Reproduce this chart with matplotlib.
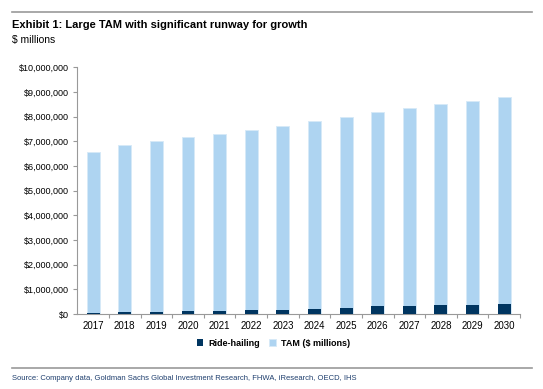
import matplotlib
matplotlib.use("Agg")
import matplotlib.pyplot as plt
from matplotlib.ticker import FuncFormatter
from matplotlib.lines import Line2D

years = ["2017", "2018", "2019", "2020", "2021", "2022", "2023",
         "2024", "2025", "2026", "2027", "2028", "2029", "2030"]
tam = [6580000, 6850000, 7010000, 7160000, 7310000, 7460000, 7620000,
       7810000, 7990000, 8180000, 8340000, 8510000, 8650000, 8800000]
ride_hailing = [40000, 80000, 80000, 120000, 130000, 160000, 170000,
                210000, 260000, 310000, 340000, 380000, 380000, 410000]

plt.rcParams["font.family"] = ["Liberation Sans", "DejaVu Sans"]

dark = "#003560"
light = "#AED4F1"

fig = plt.figure(figsize=(5.43, 3.89), dpi=100)
ax = fig.add_axes([0.1424, 0.1928, 0.8152, 0.6342])

x = range(len(years))
ax.bar(x, tam, width=0.41, color=light, edgecolor="#D6E9F8", linewidth=0.6, label="TAM ($ millions)", zorder=2)
ax.bar(x, ride_hailing, width=0.41, color=dark, label="Ride-hailing", zorder=3)

ax.set_xlim(-0.5, len(years) - 0.5)
ax.set_ylim(0, 10000000)
ax.set_yticks(range(0, 10000001, 1000000))
ax.yaxis.set_major_formatter(FuncFormatter(lambda v, p: f"${v:,.0f}"))
ax.set_xticks(list(x))
ax.set_xticklabels(years)
ax.set_xticks([i + 0.5 for i in range(len(years))], minor=True)
ax.tick_params(axis="x", which="major", length=0, labelsize=7, pad=5)
ax.tick_params(axis="x", which="minor", length=3, color="#999999", width=0.8)
ax.tick_params(axis="y", length=3, color="#999999", width=0.8, labelsize=6.5, pad=3)

for s in ["top", "right"]:
    ax.spines[s].set_visible(False)
for s in ["left", "bottom"]:
    ax.spines[s].set_color("#999999")
    ax.spines[s].set_linewidth(0.8)

handles, labels = ax.get_legend_handles_labels()
fig.legend(handles[::-1], labels[::-1], loc="center", bbox_to_anchor=(0.504, 1 - 343 / 389),
           ncol=2, frameon=False, handlelength=0.7, handleheight=0.7,
           columnspacing=1.0, handletextpad=0.6, prop={"weight": "bold", "size": 6.5})

fig.add_artist(Line2D([12 / 543, 532 / 543], [1 - 11.5 / 389] * 2, color="#999999", lw=1.2))
fig.add_artist(Line2D([12 / 543, 532 / 543], [1 - 367.5 / 389] * 2, color="#999999", lw=1.2))

fig.text(12.5 / 543, 1 - 25 / 389, "Exhibit 1: Large TAM with significant runway for growth",
         fontsize=8, fontweight="bold", va="center", ha="left")
fig.text(12.5 / 543, 1 - 39.5 / 389, "$ millions", fontsize=7.5, va="center", ha="left")
fig.text(12.5 / 543, 1 - 379 / 389,
         "Source: Company data, Goldman Sachs Global Investment Research, FHWA, iResearch, OECD, IHS",
         fontsize=5.5, color="#1F3F6E", va="center", ha="left")

fig.savefig("out.png", dpi=100)
